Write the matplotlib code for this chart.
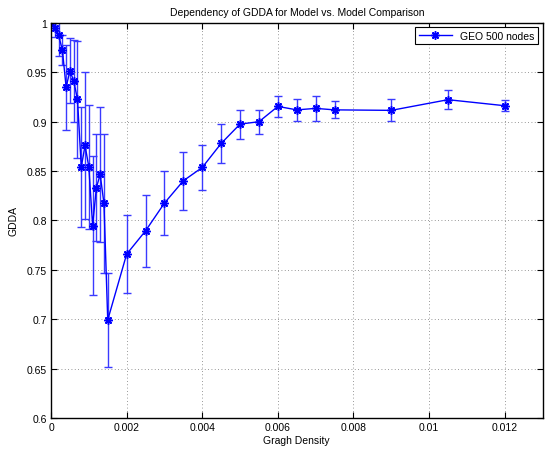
import matplotlib as mpl

mpl.use("Agg")

import matplotlib.pyplot as plt
import numpy as np

mpl.rcParams.update(
    {
        "font.family": ["Liberation Sans", "DejaVu Sans"],
        "font.size": 7.5,
        "xtick.direction": "in",
        "ytick.direction": "in",
        "xtick.top": True,
        "ytick.right": True,
        "axes.linewidth": 1.0,
    }
)

# graph density values
density = [
    0.0, 0.0001, 0.0002, 0.0003, 0.0004, 0.0005, 0.0006, 0.0007,
    0.0008, 0.0009, 0.0010, 0.0011, 0.0012, 0.0013, 0.0014, 0.0015,
    0.002, 0.0025, 0.003, 0.0035, 0.004, 0.0045, 0.005, 0.0055,
    0.006, 0.0065, 0.007, 0.0075, 0.009, 0.0105, 0.012,
]
# mean GDDA
gdda = [
    1.000, 0.9946, 0.9875, 0.9726, 0.9348, 0.9517, 0.9412, 0.9226,
    0.854, 0.876, 0.8542, 0.7949, 0.8332, 0.8466, 0.8172, 0.6993,
    0.7659, 0.7895, 0.8176, 0.8402, 0.8537, 0.878, 0.8976, 0.900,
    0.9155, 0.912, 0.9135, 0.912, 0.9115, 0.9223, 0.9162,
]
# error bar half-widths
gdda_err = [
    0.0, 0.009, 0.021, 0.015, 0.043, 0.033, 0.0414, 0.059,
    0.061, 0.0745, 0.0625, 0.0705, 0.054, 0.068, 0.0704, 0.048,
    0.0397, 0.0365, 0.032, 0.0294, 0.023, 0.0195, 0.0147, 0.012,
    0.011, 0.0115, 0.013, 0.0085, 0.011, 0.0098, 0.0056,
]

x_ticks = [0, 0.002, 0.004, 0.006, 0.008, 0.010, 0.012]
x_tick_labels = ["0", "0.002", "0.004", "0.006", "0.008", "0.01", "0.012"]
y_ticks = [0.6, 0.65, 0.7, 0.75, 0.8, 0.85, 0.9, 0.95, 1.0]
y_tick_labels = ["0.6", "0.65", "0.7", "0.75", "0.8", "0.85", "0.9", "0.95", "1"]

fig = plt.figure(figsize=(5.51, 4.52), dpi=100)
ax = fig.add_axes([0.0926, 0.073, 0.892, 0.874])

asterisk = (8, 2, 0)
ax.errorbar(
    density,
    gdda,
    yerr=gdda_err,
    fmt="none",
    ecolor="#3a3aff",
    elinewidth=1.0,
    capsize=3,
    capthick=1.0,
)
ax.plot(
    density,
    gdda,
    color="#0000ff",
    lw=1.0,
    marker=asterisk,
    markersize=6,
    mew=1.1,
    label="GEO 500 nodes",
)

ax.set_xlim(0, 0.013)
ax.set_ylim(0.6, 1.0)
ax.set_xticks(x_ticks)
ax.set_xticklabels(x_tick_labels)
ax.set_yticks(y_ticks)
ax.set_yticklabels(y_tick_labels)
ax.tick_params(length=4, width=0.8, labelsize=7.5, pad=3)
ax.grid(True, ls=(0, (1, 3)), color="#777777", lw=0.6)

ax.set_title("Dependency of GDDA for Model vs. Model Comparison", fontsize=7.5, pad=6)
ax.set_xlabel("Gragh Density", fontsize=7.5, labelpad=2)
ax.set_ylabel("GDDA", fontsize=7.5, labelpad=6)

leg = ax.legend(loc="upper right", fontsize=7.5, fancybox=False, edgecolor="black",
                framealpha=1, borderaxespad=0.4, handlelength=3.2, borderpad=0.35)
leg.get_frame().set_linewidth(0.8)

fig.savefig("out.png", dpi=100)
